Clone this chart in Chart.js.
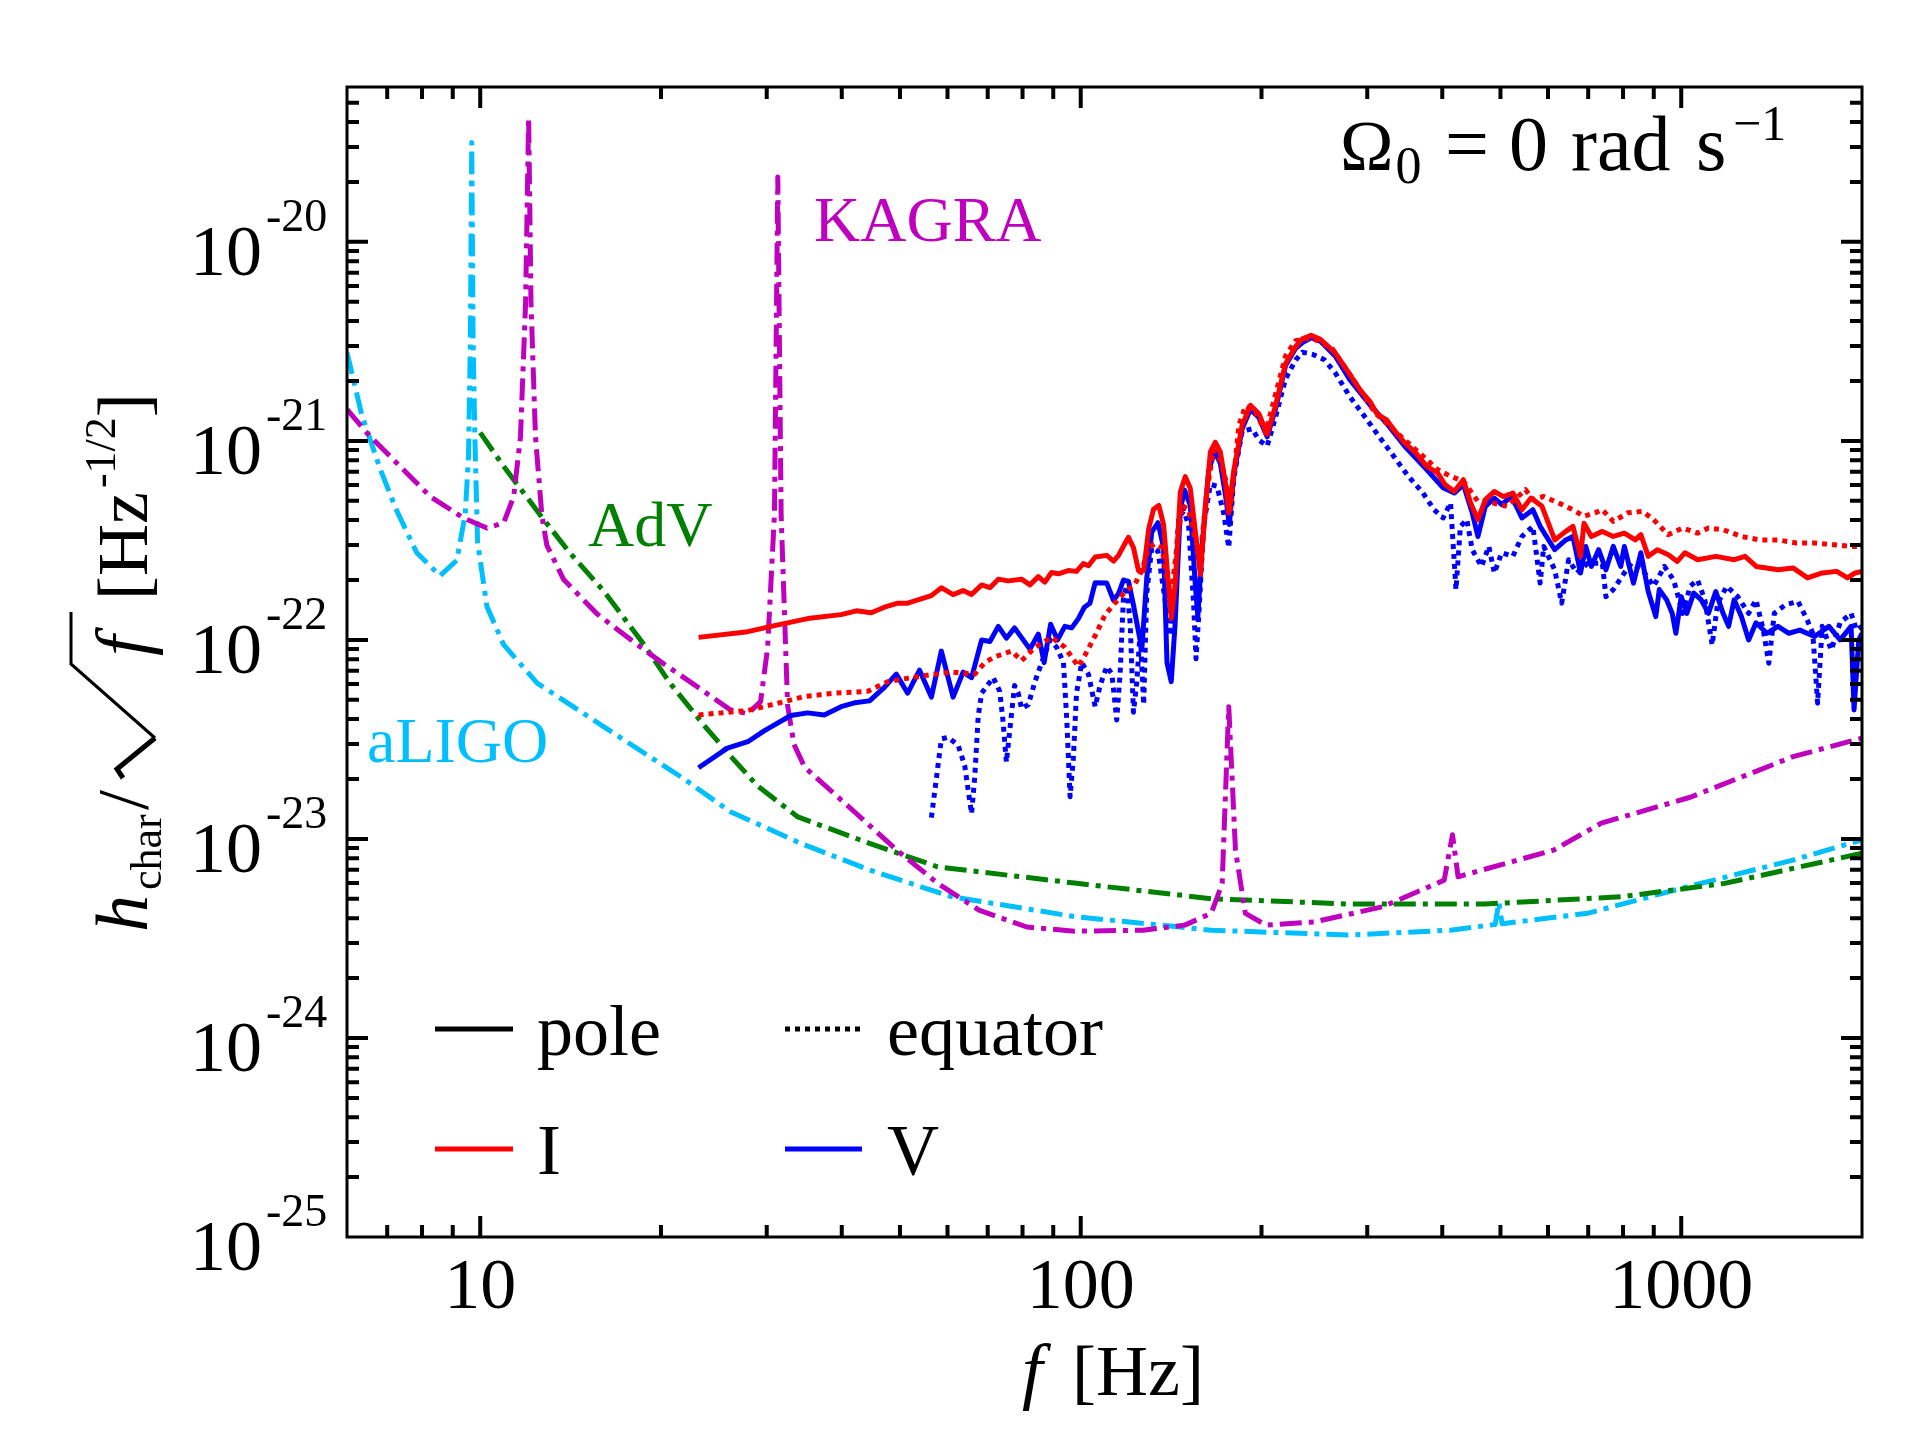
<!DOCTYPE html>
<html>
<head>
<meta charset="utf-8">
<script src="https://cdn.jsdelivr.net/npm/chart.js@4.4.1/dist/chart.umd.min.js"></script>
<style>
  html, body { margin: 0; padding: 0; background: #fff; }
  canvas { display: block; }
</style>
</head>
<body>
<canvas id="chart" width="1920" height="1440"></canvas>
<script>
// detector noise curves (f in Hz, value in Hz^-1/2)
const aligoF = [6, 6.35, 6.81, 7.26, 7.84, 8.57, 9.14, 9.44, 9.56, 9.63, 9.68, 9.73, 9.8, 9.9, 10.26, 10.94, 12.44, 14.88, 17.8, 21.6, 26.1, 34.2, 44.5, 60.9, 97.8, 165, 279, 413, 490, 497, 503, 698, 1035, 1535, 2000];
const aligoH = [2.78e-21, 1.35e-21, 7.26e-22, 4.46e-22, 2.74e-22, 2.10e-22, 2.51e-22, 4.27e-22, 8.3e-22, 3.2e-21, 3.16e-20, 3.2e-21, 1.0e-21, 3.1e-22, 1.47e-22, 9.46e-23, 6.07e-23, 4.26e-23, 2.99e-23, 2.05e-23, 1.37e-23, 9.5e-24, 6.98e-24, 5.13e-24, 4.07e-24, 3.48e-24, 3.29e-24, 3.48e-24, 3.72e-24, 4.8e-24, 3.75e-24, 4.23e-24, 5.8e-24, 7.83e-24, 9.9e-24];

const advF = [10, 10.94, 12.76, 14.1, 16.06, 18.74, 20.7, 23.6, 26.1, 29.0, 33.8, 44.5, 57.8, 97.7, 165, 279, 471, 798, 1181, 2000];
const advH = [1.1e-21, 7.45e-22, 4.02e-22, 2.74e-22, 1.76e-22, 9.46e-23, 6.07e-23, 3.72e-23, 2.61e-23, 1.84e-23, 1.29e-23, 9.5e-24, 7.24e-24, 6.0e-24, 5.01e-24, 4.71e-24, 4.71e-24, 5.13e-24, 5.98e-24, 8.47e-24];

const kagraF = [6, 6.47, 7.26, 8.25, 9.38, 10.26, 10.94, 11.37, 11.67, 11.9, 12.04, 12.15, 12.36, 12.67, 12.91, 13.77, 15.66, 18.26, 20.2, 23.0, 26.1, 27.9, 29.3, 30.1, 30.9, 31.3, 31.7, 32.5, 33.3, 34.7, 36.1, 42.2, 49.4, 57.8, 67.7, 81.3, 97.7, 127, 149, 165, 172, 176.4, 181, 188, 203.6, 245, 318, 403, 416, 425, 613, 736, 1035, 1535, 2000];
const kagraH = [1.44e-21, 1.10e-21, 7.74e-22, 5.26e-22, 4.10e-22, 3.65e-22, 3.87e-22, 5.26e-22, 1.05e-21, 4.94e-21, 4.22e-20, 4.9e-21, 1.05e-21, 4.18e-22, 2.99e-22, 2.01e-22, 1.35e-22, 9.46e-23, 7.59e-23, 5.81e-23, 4.45e-23, 4.26e-23, 4.9e-23, 9.12e-23, 4.27e-22, 2.12e-20, 4.3e-22, 4.68e-23, 2.99e-23, 2.29e-23, 2.06e-23, 1.35e-23, 8.79e-24, 5.98e-24, 4.39e-24, 3.61e-24, 3.44e-24, 3.48e-24, 3.69e-24, 4.23e-24, 5.98e-24, 4.62e-23, 8.79e-24, 4.23e-24, 3.69e-24, 3.83e-24, 4.56e-24, 6.21e-24, 1.05e-23, 6.46e-24, 8.79e-24, 1.2e-23, 1.62e-23, 2.59e-23, 3.21e-23];

// signal, Stokes I and V, pole and equator
const iPoleF = [23.1, 27.9, 30.9, 35.1, 39.9, 42.3, 44.8, 47.1, 49.6, 51.5, 56.4, 58.6, 61.3, 63.7, 65.8, 68.4, 70.6, 72.9, 75.7, 79.7, 82.3, 85, 87.1, 89.4, 91.8, 95.3, 98.4, 101, 103, 105.7, 110.5, 113.4, 115.6, 118.6, 120.1, 122.4, 124.8, 127.3, 129.8, 132.2, 134.9, 137.4, 141.5, 143.6, 146.5, 149.3, 152.2, 158.2, 161.2, 164.4, 167.5, 170.8, 174.1, 176.4, 179.8, 185.7, 191.7, 198, 204.4, 211, 219.3, 228, 234, 242, 250.7, 265.3, 280.6, 292.9, 303, 311.9, 322.8, 332, 346.4, 361.3, 376.8, 392.8, 404.3, 418.8, 433.7, 446, 458.6, 471.8, 488.4, 505.8, 524.3, 542.9, 562.1, 586.3, 615.6, 642.3, 660.3, 679.6, 688.8, 708.5, 739, 770.6, 804, 838.5, 856.5, 881.2, 912.6, 952, 985, 1014, 1065, 1142, 1225, 1277, 1333, 1451, 1535, 1623, 1717, 1815, 1892, 1948, 2000];
const iPoleH = [1.03e-22, 1.10e-22, 1.18e-22, 1.28e-22, 1.34e-22, 1.40e-22, 1.37e-22, 1.46e-22, 1.53e-22, 1.53e-22, 1.67e-22, 1.83e-22, 1.69e-22, 1.77e-22, 1.69e-22, 1.89e-22, 1.83e-22, 2.02e-22, 1.98e-22, 2.02e-22, 1.89e-22, 2.08e-22, 1.95e-22, 2.18e-22, 2.15e-22, 2.23e-22, 2.21e-22, 2.42e-22, 2.36e-22, 2.61e-22, 2.66e-22, 2.49e-22, 2.66e-22, 3.07e-22, 3.28e-22, 2.91e-22, 2.23e-22, 2.23e-22, 3.63e-22, 4.53e-22, 4.74e-22, 3.80e-22, 1.28e-22, 1.87e-22, 5.53e-22, 6.61e-22, 5.78e-22, 2.13e-22, 4.53e-22, 8.81e-22, 9.84e-22, 8.81e-22, 6.18e-22, 4.34e-22, 7.06e-22, 1.20e-21, 1.51e-21, 1.37e-21, 1.08e-21, 1.50e-21, 2.44e-21, 2.98e-21, 3.26e-21, 3.39e-21, 3.24e-21, 2.77e-21, 2.16e-21, 1.78e-21, 1.58e-21, 1.36e-21, 1.28e-21, 1.14e-21, 9.77e-22, 8.71e-22, 7.45e-22, 6.90e-22, 6.03e-22, 5.57e-22, 6.38e-22, 4.88e-22, 4.02e-22, 5.07e-22, 5.57e-22, 5.25e-22, 5.47e-22, 4.51e-22, 5.16e-22, 4.69e-22, 3.18e-22, 3.51e-22, 3.72e-22, 2.63e-22, 3.86e-22, 3.31e-22, 3.51e-22, 3.31e-22, 3.44e-22, 3.18e-22, 3.38e-22, 2.63e-22, 2.84e-22, 2.68e-22, 2.48e-22, 2.74e-22, 2.53e-22, 2.63e-22, 2.53e-22, 2.63e-22, 2.34e-22, 2.25e-22, 2.30e-22, 2.05e-22, 2.17e-22, 2.21e-22, 2.05e-22, 2.17e-22, 2.21e-22];

const iEqF = [23.1, 27.9, 30.9, 34.7, 38.9, 44.2, 47.7, 52.2, 57.1, 60.9, 66.6, 69.2, 71.9, 76.7, 79.7, 83.9, 89.4, 94.1, 99.1, 101.7, 105.7, 109.8, 114, 118.6, 123.2, 126.4, 129.8, 133, 136.5, 139.2, 141.5, 144.6, 147.4, 151.2, 155.2, 158.2, 162, 166.3, 170.8, 174.1, 177.5, 181, 183.4, 188.1, 195.4, 203.1, 211, 219.3, 228, 242, 261.7, 280.6, 309.4, 341.6, 371.5, 392.8, 412.9, 433.7, 458.6, 485.2, 513, 550.4, 566.1, 590.2, 624.5, 660.3, 688.8, 718.6, 739, 770.6, 815, 862.4, 899.5, 951, 1006, 1064, 1110, 1174, 1259, 1351, 1449, 1554, 1667, 1790, 1918, 2000];
const iEqH = [4.2e-23, 4.42e-23, 4.76e-23, 5.2e-23, 5.4e-23, 5.52e-23, 6.17e-23, 6.46e-23, 6.73e-23, 6.89e-23, 6.73e-23, 7.69e-23, 8.22e-23, 8.79e-23, 7.87e-23, 9.18e-23, 1.03e-22, 9.18e-23, 7.36e-23, 8.41e-23, 1.05e-22, 1.34e-22, 1.53e-22, 1.75e-22, 1.91e-22, 2.23e-22, 2.91e-22, 3.04e-22, 2.91e-22, 2.04e-22, 1.71e-22, 2.91e-22, 4.74e-22, 4.53e-22, 3.18e-22, 2.66e-22, 5.41e-22, 9.02e-22, 8.05e-22, 6.46e-22, 4.53e-22, 8.05e-22, 1.20e-21, 1.50e-21, 1.40e-21, 1.10e-21, 1.71e-21, 2.67e-21, 3.19e-21, 3.30e-21, 2.94e-21, 2.16e-21, 1.38e-21, 1.05e-21, 8.38e-22, 7.18e-22, 6.64e-22, 6.27e-22, 4.97e-22, 4.88e-22, 4.69e-22, 5.69e-22, 5.07e-22, 5.26e-22, 4.88e-22, 4.51e-22, 4.18e-22, 4.35e-22, 4.51e-22, 3.94e-22, 4.35e-22, 4.43e-22, 4.02e-22, 3.38e-22, 3.65e-22, 3.44e-22, 3.65e-22, 3.58e-22, 3.31e-22, 3.18e-22, 3.18e-22, 3.07e-22, 3.07e-22, 3.01e-22, 2.95e-22, 2.95e-22];

const vPoleF = [23.1, 25.8, 27.9, 29.7, 32.9, 35.1, 37.4, 39.9, 42, 44.5, 47.1, 49.3, 51.5, 53.9, 56.4, 58.6, 61.3, 63.7, 65.8, 68.4, 70.6, 72.9, 75.2, 77.6, 80.2, 82.3, 85, 86.9, 89.1, 91.5, 94.1, 96.6, 99.1, 101.4, 103.6, 105.7, 110.5, 113.4, 115.6, 117.8, 120.1, 122.4, 124.8, 126.4, 128.8, 131.3, 134.5, 137.4, 139.2, 141.5, 143.6, 146.5, 148.9, 152.2, 155.2, 156.7, 159.2, 163.3, 167.1, 170.8, 174.1, 176.8, 179.8, 185.7, 191.7, 198, 204.4, 211, 219.3, 228, 234, 242, 250.7, 265.3, 280.6, 303, 322.8, 346.4, 376.8, 401.3, 418.8, 433.7, 448.7, 458.6, 471.8, 488.4, 502.4, 521.9, 542.9, 566.2, 582.2, 615.6, 642.3, 660.3, 679.6, 693.5, 708.5, 728.5, 749.2, 770.6, 793, 804, 832.7, 856.5, 881.2, 907, 919.4, 945.7, 966, 979.6, 1000, 1021.6, 1049.3, 1079.6, 1110, 1141.7, 1174, 1199.3, 1225, 1259.6, 1295, 1332, 1389, 1449, 1511, 1576, 1667, 1762, 1839, 1918, 1940, 1975, 2000];
const vPoleH = [2.28e-23, 2.86e-23, 3.08e-23, 3.49e-23, 4.17e-23, 4.30e-23, 4.20e-23, 4.62e-23, 4.83e-23, 4.94e-23, 5.77e-23, 6.73e-23, 5.40e-23, 7.05e-23, 5.16e-23, 8.79e-23, 5.16e-23, 6.89e-23, 6.46e-23, 1.0e-22, 9.82e-23, 1.17e-22, 1.02e-22, 1.15e-22, 1.0e-22, 8.99e-23, 1.07e-22, 7.69e-23, 1.20e-22, 1.0e-22, 1.17e-22, 1.15e-22, 1.28e-22, 1.46e-22, 1.53e-22, 1.94e-22, 1.93e-22, 1.58e-22, 1.71e-22, 2.0e-22, 1.97e-22, 1.50e-22, 1.10e-22, 8.99e-23, 2.04e-22, 3.48e-22, 3.88e-22, 2.91e-22, 7.69e-23, 6.17e-23, 1.20e-22, 4.53e-22, 5.66e-22, 4.74e-22, 1.87e-22, 1.31e-22, 2.91e-22, 7.06e-22, 8.89e-22, 7.71e-22, 5.41e-22, 3.80e-22, 6.75e-22, 1.15e-21, 1.44e-21, 1.31e-21, 1.05e-21, 1.44e-21, 2.39e-21, 2.92e-21, 3.12e-21, 3.30e-21, 3.17e-21, 2.67e-21, 2.03e-21, 1.52e-21, 1.23e-21, 9.4e-22, 7.18e-22, 5.81e-22, 5.47e-22, 6.03e-22, 4.35e-22, 3.31e-22, 4.69e-22, 5.16e-22, 4.79e-22, 5.26e-22, 4.10e-22, 4.51e-22, 3.72e-22, 2.84e-22, 3.18e-22, 3.31e-22, 2.17e-22, 2.95e-22, 2.34e-22, 2.84e-22, 2.25e-22, 2.95e-22, 2.34e-22, 2.95e-22, 1.93e-22, 2.74e-22, 1.75e-22, 1.31e-22, 1.79e-22, 1.59e-22, 1.36e-22, 1.08e-22, 1.65e-22, 1.36e-22, 1.72e-22, 1.59e-22, 1.36e-22, 1.75e-22, 1.36e-22, 1.17e-22, 1.59e-22, 1.31e-22, 1.0e-22, 1.22e-22, 1.08e-22, 1.17e-22, 1.08e-22, 1.12e-22, 1.04e-22, 1.17e-22, 1.0e-22, 1.17e-22, 4.45e-23, 1.0e-22, 1.08e-22];

const vEqF = [56.4, 57.1, 58.6, 60.1, 62.5, 64.1, 65.8, 66.6, 67.5, 68.4, 71.5, 73.3, 74.2, 75.2, 76.5, 77.6, 78.7, 79.7, 81.8, 83.9, 86.1, 88.9, 91.2, 93.6, 94.8, 96, 97.2, 98.4, 100.4, 103, 105.7, 107.7, 110.5, 112.7, 114.8, 116.3, 117.8, 119.3, 120.9, 122.4, 124, 125.6, 127.3, 128.8, 131.3, 134.5, 136.5, 141, 145.7, 148.4, 151.2, 154.2, 155.6, 157.2, 160.3, 164.4, 168.6, 173, 176.4, 179.8, 185.7, 193, 198, 204.4, 211, 219.3, 228, 234, 243.5, 254.4, 265.3, 280.6, 296.9, 314, 332, 351.2, 371.5, 387.6, 401.3, 412.9, 421.6, 428.8, 439.5, 448.7, 465, 478.2, 488.4, 502.4, 524.3, 542.9, 566.2, 582.2, 590.2, 615.6, 632.3, 649.4, 670, 699, 739, 749.2, 770.6, 804, 826, 862.4, 899.5, 937.6, 971.2, 1006, 1035, 1064.5, 1094.7, 1126, 1150, 1191, 1241.7, 1295, 1332, 1370, 1399, 1429, 1490, 1565, 1621, 1656, 1687, 1717, 1778, 1839, 1918, 1959, 2000];
const vEqH = [1.28e-23, 1.71e-23, 3.18e-23, 3.24e-23, 2.96e-23, 2.33e-23, 1.34e-23, 2.04e-23, 4.14e-23, 5.40e-23, 6.46e-23, 5.52e-23, 3.96e-23, 2.43e-23, 3.96e-23, 5.90e-23, 5.40e-23, 4.52e-23, 4.73e-23, 6.17e-23, 7.69e-23, 1.0e-22, 9.18e-23, 7.69e-23, 3.96e-23, 1.63e-23, 2.54e-23, 5.40e-23, 7.69e-23, 6.73e-23, 4.62e-23, 5.89e-23, 7.36e-23, 6.73e-23, 3.96e-23, 6.73e-23, 1.64e-22, 1.87e-22, 1.20e-22, 4.33e-23, 6.17e-23, 1.10e-22, 4.73e-23, 1.71e-22, 2.91e-22, 2.79e-22, 2.04e-22, 1.05e-22, 4.15e-22, 4.44e-22, 3.80e-22, 1.50e-22, 8.04e-23, 1.31e-22, 3.80e-22, 6.05e-22, 5.92e-22, 4.34e-22, 2.91e-22, 6.46e-22, 1.12e-21, 1.15e-21, 1.01e-21, 9.42e-22, 1.31e-21, 2.05e-21, 2.55e-21, 2.79e-21, 2.72e-21, 2.56e-21, 2.20e-21, 1.67e-21, 1.33e-21, 1.05e-21, 8.38e-22, 6.64e-22, 5.47e-22, 4.51e-22, 4.10e-22, 4.88e-22, 1.79e-22, 3.72e-22, 4.02e-22, 2.84e-22, 2.34e-22, 2.95e-22, 2.17e-22, 2.74e-22, 2.63e-22, 3.31e-22, 3.72e-22, 1.93e-22, 2.95e-22, 2.25e-22, 1.53e-22, 2.53e-22, 2.17e-22, 2.43e-22, 2.43e-22, 1.65e-22, 1.79e-22, 2.17e-22, 2.43e-22, 2.25e-22, 1.86e-22, 2.34e-22, 2.0e-22, 1.36e-22, 1.86e-22, 2.0e-22, 1.59e-22, 9.44e-23, 1.53e-22, 1.86e-22, 1.65e-22, 1.36e-22, 1.59e-22, 1.12e-22, 7.64e-23, 1.36e-22, 1.50e-22, 1.56e-22, 1.26e-22, 1.08e-22, 4.81e-23, 1.17e-22, 8.91e-23, 1.22e-22, 1.36e-22, 1.12e-22, 1.17e-22];

// axes
const xMin = 6, xMax = 2000;
const yMin = 1e-25, yMax = 6e-20;
const xTickVals = [10, 100, 1000];
const xTickLabels = ['10', '100', '1000'];
const yTickExps = [-25, -24, -23, -22, -21, -20];
const yTickLabels = ['-25', '-24', '-23', '-22', '-21', '-20'];

const serif = '"Liberation Serif", "Times New Roman", serif';
const cRed = '#ff0000', cBlue = '#0000ff', cCyan = '#00bfff', cGreen = '#008000', cMag = '#bf00bf';
const dashDot = [22, 7, 5, 7];
const dotted = [5, 5];

function pts(fs, hs) {
    return fs.map((f, i) => ({x: f, y: hs[i]}));
}

function makeSet(label, fs, hs, color, dash, width, order) {
    return {
        label: label,
        data: pts(fs, hs),
        borderColor: color,
        borderWidth: width,
        borderDash: dash,
        borderCapStyle: 'butt',
        borderJoinStyle: 'round',
        pointRadius: 0,
        fill: false,
        tension: 0,
        order: order
    };
}

function minorVals(lo, hi) {
    const out = [];
    for (let e = Math.floor(Math.log10(lo)); e <= Math.ceil(Math.log10(hi)); e++) {
        for (let k = 1; k < 10; k++) {
            const v = k * Math.pow(10, e);
            if (v >= lo * 0.999 && v <= hi * 1.001) out.push({v: v, major: k === 1});
        }
    }
    return out;
}

const axesPlugin = {
    id: 'axesPlugin',
    afterDraw(chart) {
        const ctx = chart.ctx;
        const a = chart.chartArea;
        const xs = chart.scales.x, ys = chart.scales.y;
        ctx.save();
        ctx.strokeStyle = '#000';
        ctx.lineWidth = 3;
        ctx.strokeRect(a.left, a.top, a.right - a.left, a.bottom - a.top);

        // inward ticks on all four sides
        ctx.lineWidth = 4;
        minorVals(xMin, xMax).forEach(t => {
            const px = xs.getPixelForValue(t.v);
            if (px <= a.left + 2 || px >= a.right - 2) return;
            const len = t.major ? 21 : 12;
            ctx.beginPath();
            ctx.moveTo(px, a.bottom); ctx.lineTo(px, a.bottom - len);
            ctx.moveTo(px, a.top); ctx.lineTo(px, a.top + len);
            ctx.stroke();
        });
        minorVals(yMin, yMax).forEach(t => {
            const py = ys.getPixelForValue(t.v);
            if (py <= a.top + 2 || py >= a.bottom - 2) return;
            const len = t.major ? 21 : 12;
            ctx.beginPath();
            ctx.moveTo(a.left, py); ctx.lineTo(a.left + len, py);
            ctx.moveTo(a.right, py); ctx.lineTo(a.right - len, py);
            ctx.stroke();
        });

        // tick labels
        ctx.fillStyle = '#000';
        ctx.textBaseline = 'alphabetic';
        ctx.font = '72px ' + serif;
        ctx.textAlign = 'center';
        xTickVals.forEach((v, i) => {
            ctx.fillText(xTickLabels[i], xs.getPixelForValue(v), 1308);
        });
        yTickExps.forEach((e, i) => {
            const py = ys.getPixelForValue(Math.pow(10, e));
            ctx.textAlign = 'right';
            ctx.font = '72px ' + serif;
            ctx.fillText('10', 262, py + 33);
            ctx.textAlign = 'left';
            ctx.font = '46px ' + serif;
            ctx.fillText(yTickLabels[i], 266, py - 11);
        });

        // x title
        ctx.textAlign = 'left';
        ctx.font = 'italic 74px ' + serif;
        ctx.fillText('f', 1022, 1395);
        ctx.font = '72px ' + serif;
        ctx.fillText('[Hz]', 1072, 1395);

        // y title, rotated
        ctx.save();
        ctx.translate(147, 932);
        ctx.rotate(-Math.PI / 2);
        ctx.font = 'italic 74px ' + serif;
        ctx.fillText('h', 0, 0);
        ctx.font = '44px ' + serif;
        ctx.fillText('char', 42, 14);
        ctx.font = '72px ' + serif;
        ctx.fillText('/', 122, 0);
        ctx.lineJoin = 'miter';
        ctx.lineWidth = 5;
        ctx.beginPath();
        ctx.moveTo(154, -24);
        ctx.lineTo(163, -30);
        ctx.lineTo(194, 8);
        ctx.stroke();
        ctx.lineWidth = 3;
        ctx.beginPath();
        ctx.moveTo(194, 8);
        ctx.lineTo(268, -76);
        ctx.lineTo(320, -76);
        ctx.stroke();
        ctx.font = 'italic 74px ' + serif;
        ctx.fillText('f', 276, 0);
        ctx.font = '72px ' + serif;
        ctx.fillText('[Hz', 332, 0);
        const wHz = ctx.measureText('[Hz').width;
        ctx.font = '44px ' + serif;
        ctx.fillText('-1/2', 332 + wHz + 4, -32);
        const wSup = ctx.measureText('-1/2').width;
        ctx.font = '72px ' + serif;
        ctx.fillText(']', 332 + wHz + wSup + 4, 0);
        ctx.restore();

        // curve labels
        ctx.font = '64px ' + serif;
        ctx.fillStyle = cMag;
        ctx.fillText('KAGRA', 814, 241);
        ctx.fillStyle = cGreen;
        ctx.fillText('AdV', 588, 546);
        ctx.fillStyle = cCyan;
        ctx.fillText('aLIGO', 367, 762);

        // rotation label
        ctx.fillStyle = '#000';
        ctx.font = '72px ' + serif;
        ctx.fillText('\u03A9', 1340, 170);
        const wOm = ctx.measureText('\u03A9').width;
        ctx.font = '52px ' + serif;
        ctx.fillText('0', 1340 + wOm + 2, 183);
        ctx.font = '78px ' + serif;
        ctx.fillText('=', 1445, 170);
        ctx.fillText('0', 1509, 170);
        ctx.fillText('rad', 1571, 170);
        ctx.fillText('s', 1696, 170);
        ctx.font = '50px ' + serif;
        ctx.fillText('\u22121', 1733, 140);

        // legend
        ctx.font = '72px ' + serif;
        ctx.fillStyle = '#000';
        ctx.fillText('pole', 537, 1055);
        ctx.fillText('equator', 887, 1055);
        ctx.fillText('I', 537, 1174);
        ctx.fillText('V', 887, 1174);
        ctx.lineCap = 'butt';
        ctx.strokeStyle = '#000';
        ctx.lineWidth = 5;
        ctx.beginPath(); ctx.moveTo(435, 1029); ctx.lineTo(513, 1029); ctx.stroke();
        ctx.setLineDash(dotted);
        ctx.beginPath(); ctx.moveTo(785, 1029); ctx.lineTo(860, 1029); ctx.stroke();
        ctx.setLineDash([]);
        ctx.strokeStyle = cRed;
        ctx.beginPath(); ctx.moveTo(435, 1149); ctx.lineTo(513, 1149); ctx.stroke();
        ctx.strokeStyle = cBlue;
        ctx.beginPath(); ctx.moveTo(785, 1149); ctx.lineTo(862, 1149); ctx.stroke();
        ctx.restore();
    }
};

new Chart(document.getElementById('chart'), {
    type: 'line',
    data: {
        datasets: [
            makeSet('I pole', iPoleF, iPoleH, cRed, [], 5, 1),
            makeSet('I equator', iEqF, iEqH, cRed, dotted, 5, 2),
            makeSet('V pole', vPoleF, vPoleH, cBlue, [], 5, 3),
            makeSet('V equator', vEqF, vEqH, cBlue, dotted, 5, 4),
            makeSet('KAGRA', kagraF, kagraH, cMag, dashDot, 5, 5),
            makeSet('AdV', advF, advH, cGreen, dashDot, 5, 6),
            makeSet('aLIGO', aligoF, aligoH, cCyan, dashDot, 5, 7)
        ]
    },
    options: {
        responsive: false,
        animation: false,
        devicePixelRatio: 1,
        layout: {padding: {top: 87, right: 58, left: 0, bottom: 0}},
        plugins: {
            legend: {display: false},
            tooltip: {enabled: false}
        },
        scales: {
            x: {
                type: 'logarithmic',
                min: xMin,
                max: xMax,
                ticks: {display: false},
                grid: {display: false},
                border: {display: false},
                afterFit(scale) { scale.height = 203; }
            },
            y: {
                type: 'logarithmic',
                min: yMin,
                max: yMax,
                ticks: {display: false},
                grid: {display: false},
                border: {display: false},
                afterFit(scale) { scale.width = 347; }
            }
        }
    },
    plugins: [axesPlugin]
});
</script>
</body>
</html>
